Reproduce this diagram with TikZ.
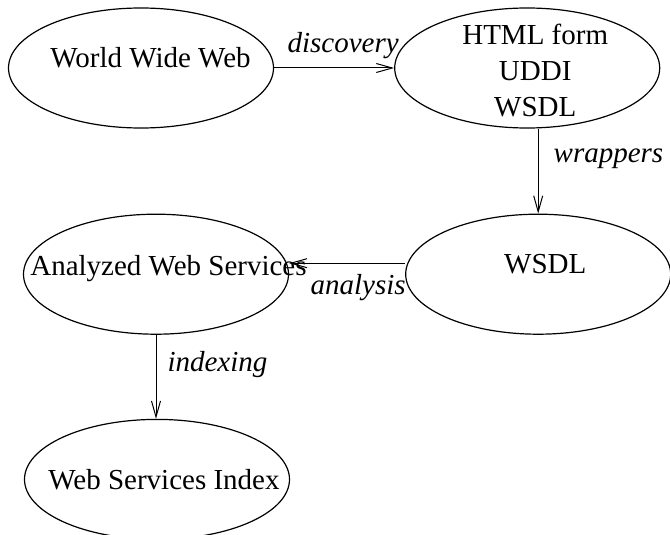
\documentclass[tikz,border=0pt]{standalone}
\usepackage{fontspec}
\setmainfont{Liberation Serif}
\usetikzlibrary{positioning,shapes.geometric,arrows.meta}

\begin{document}
\begin{tikzpicture}[line width=1pt, >={Straight Barb[length=16pt,width=9pt]},
  stage/.style = {draw, ellipse, line width=1.2pt, minimum width=265pt, minimum height=120pt, inner sep=0pt},
  txt/.style = {font=\fontsize{29}{36}\selectfont, align=center},
  act/.style = {font=\fontsize{29}{36}\selectfont\itshape, inner sep=0pt}]

    \useasboundingbox (0,0) rectangle (670pt,-535pt);

    \node[stage, label={[txt, xshift=9.5pt, yshift=9.9pt]center:World Wide Web}] (1) at (141pt,-68pt) {};
    \node[stage, right=120pt of 1, label={[txt, xshift=8pt, yshift=-3pt]center:HTML form\\UDDI\\WSDL}] (2) {};

    \node[stage, below=85pt of 2, xshift=11pt, label={[txt, xshift=7pt, yshift=9.6pt]center:WSDL}] (3) {};
    \node[stage, left=116pt of 3, label={[txt, xshift=12.5pt, yshift=5.75pt]center:Analyzed Web Services}] (4) {};

    \node[stage, below=84pt of 4, xshift=1pt, label={[txt, xshift=7pt]center:Web Services Index}] (5) {};


    \draw [->] (1.east) -- (2.west) node[act, midway, above=9pt, xshift=9pt] (l1) {discovery};

    \draw [->] (2.south -| 3.north) -- (3.north) node[act, pos=0.35, right=15pt] (l2) {wrappers};

    \draw [->] ([yshift=11pt]3.west) -- ([yshift=11pt]4.east) node[act, midway, below=11pt, xshift=11pt] (l3) {analysis};

    \draw [->] (4.south) -- (4.south |- 5.north) node[act, pos=0.35, right=11pt] (l4) {indexing};

\end{tikzpicture}
\end{document}
